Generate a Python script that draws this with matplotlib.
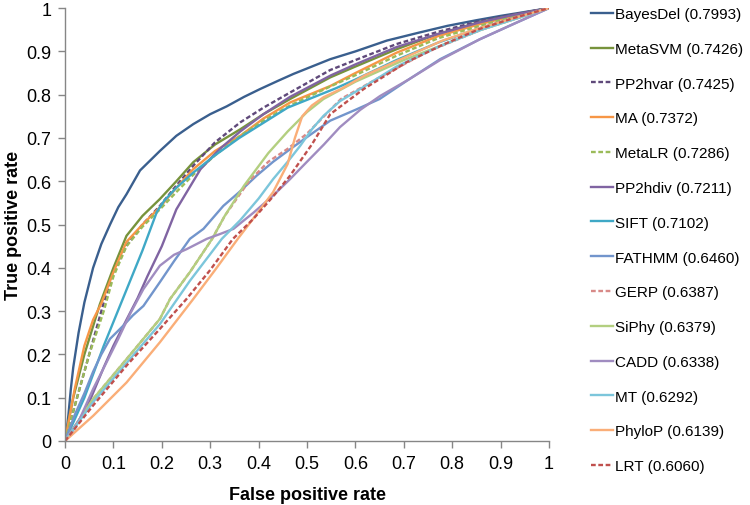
import matplotlib.pyplot as plt

plt.rcParams['font.family'] = ['Liberation Sans', 'DejaVu Sans']

# ROC points (false positive rate, true positive rate)
fpr_bayesdel = [0, 0.004, 0.007, 0.012, 0.017, 0.028, 0.04, 0.058, 0.075, 0.093, 0.11, 0.127, 0.155, 0.196, 0.23, 0.265, 0.3, 0.334, 0.37, 0.403, 0.44, 0.472, 0.51, 0.548, 0.6, 0.665, 0.73, 0.79, 0.85, 0.9, 0.95, 1]
tpr_bayesdel = [0, 0.03, 0.06, 0.12, 0.17, 0.25, 0.32, 0.4, 0.455, 0.5, 0.54, 0.57, 0.625, 0.67, 0.705, 0.732, 0.755, 0.773, 0.795, 0.813, 0.832, 0.848, 0.865, 0.882, 0.9, 0.925, 0.943, 0.959, 0.972, 0.982, 0.991, 1]

fpr_metasvm = [0, 0.008, 0.017, 0.04, 0.072, 0.1, 0.127, 0.16, 0.196, 0.23, 0.265, 0.31, 0.362, 0.41, 0.465, 0.548, 0.6, 0.685, 0.77, 0.857, 0.93, 1]
tpr_metasvm = [0, 0.05, 0.1, 0.2, 0.316, 0.4, 0.474, 0.52, 0.559, 0.6, 0.644, 0.685, 0.72, 0.755, 0.79, 0.84, 0.865, 0.905, 0.94, 0.968, 0.985, 1]

fpr_pp2hvar = [0, 0.01, 0.024, 0.05, 0.079, 0.1, 0.127, 0.16, 0.196, 0.23, 0.265, 0.31, 0.362, 0.41, 0.465, 0.548, 0.6, 0.685, 0.77, 0.857, 0.93, 1]
tpr_pp2hvar = [0, 0.04, 0.097, 0.2, 0.316, 0.39, 0.451, 0.5, 0.543, 0.59, 0.636, 0.69, 0.736, 0.77, 0.805, 0.857, 0.88, 0.917, 0.945, 0.97, 0.986, 1]

fpr_ma = [0, 0.01, 0.02, 0.04, 0.058, 0.076, 0.1, 0.127, 0.16, 0.196, 0.23, 0.265, 0.31, 0.362, 0.41, 0.465, 0.548, 0.6, 0.685, 0.77, 0.857, 0.93, 1]
tpr_ma = [0, 0.06, 0.12, 0.22, 0.28, 0.32, 0.39, 0.46, 0.5, 0.54, 0.585, 0.628, 0.67, 0.705, 0.745, 0.782, 0.82, 0.85, 0.897, 0.935, 0.963, 0.983, 1]

fpr_metalr = [0, 0.01, 0.02, 0.05, 0.08, 0.1, 0.127, 0.16, 0.196, 0.23, 0.265, 0.31, 0.362, 0.41, 0.465, 0.55, 0.6, 0.685, 0.77, 0.86, 0.93, 1]
tpr_metalr = [0, 0.04, 0.08, 0.2, 0.3, 0.38, 0.45, 0.495, 0.535, 0.575, 0.615, 0.66, 0.705, 0.74, 0.775, 0.82, 0.845, 0.89, 0.93, 0.96, 0.982, 1]

fpr_pp2hdiv = [0, 0.02, 0.05, 0.08, 0.1, 0.127, 0.15, 0.17, 0.2, 0.23, 0.28, 0.32, 0.362, 0.41, 0.465, 0.55, 0.6, 0.685, 0.77, 0.86, 0.93, 1]
tpr_pp2hdiv = [0, 0.03, 0.09, 0.17, 0.22, 0.28, 0.33, 0.38, 0.45, 0.535, 0.628, 0.675, 0.715, 0.755, 0.795, 0.845, 0.87, 0.91, 0.94, 0.968, 0.985, 1]

fpr_sift = [0, 0.04, 0.08, 0.12, 0.16, 0.19, 0.205, 0.23, 0.265, 0.31, 0.36, 0.41, 0.46, 0.56, 0.6, 0.685, 0.77, 0.86, 0.93, 1]
tpr_sift = [0, 0.1, 0.22, 0.33, 0.44, 0.53, 0.555, 0.585, 0.62, 0.66, 0.7, 0.735, 0.77, 0.815, 0.835, 0.88, 0.92, 0.955, 0.978, 1]

fpr_fathmm = [0, 0.02, 0.04, 0.058, 0.075, 0.093, 0.12, 0.14, 0.162, 0.196, 0.225, 0.258, 0.286, 0.327, 0.36, 0.396, 0.43, 0.465, 0.51, 0.548, 0.6, 0.65, 0.71, 0.775, 0.857, 0.93, 1]
tpr_fathmm = [0, 0.06, 0.11, 0.16, 0.2, 0.236, 0.266, 0.29, 0.312, 0.367, 0.415, 0.467, 0.49, 0.543, 0.575, 0.613, 0.645, 0.674, 0.71, 0.74, 0.765, 0.79, 0.835, 0.882, 0.928, 0.965, 1]

fpr_gerp = [0, 0.058, 0.127, 0.196, 0.217, 0.258, 0.304, 0.33, 0.38, 0.42, 0.46, 0.5, 0.57, 0.65, 0.75, 0.86, 0.93, 1]
tpr_gerp = [0, 0.097, 0.189, 0.282, 0.328, 0.39, 0.467, 0.52, 0.6, 0.645, 0.675, 0.71, 0.79, 0.84, 0.9, 0.95, 0.975, 1]

fpr_siphy = [0, 0.058, 0.127, 0.196, 0.217, 0.258, 0.304, 0.33, 0.37, 0.42, 0.46, 0.5, 0.534, 0.6, 0.7, 0.86, 0.93, 1]
tpr_siphy = [0, 0.097, 0.189, 0.282, 0.328, 0.39, 0.467, 0.52, 0.59, 0.665, 0.715, 0.76, 0.79, 0.83, 0.88, 0.95, 0.975, 1]

fpr_cadd = [0, 0.03, 0.058, 0.085, 0.11, 0.135, 0.162, 0.196, 0.225, 0.251, 0.293, 0.32, 0.348, 0.39, 0.43, 0.465, 0.499, 0.535, 0.568, 0.61, 0.651, 0.71, 0.775, 0.857, 0.93, 1]
tpr_cadd = [0, 0.05, 0.12, 0.18, 0.236, 0.295, 0.351, 0.405, 0.43, 0.443, 0.467, 0.478, 0.49, 0.528, 0.567, 0.605, 0.644, 0.685, 0.725, 0.765, 0.797, 0.835, 0.88, 0.928, 0.965, 1]

fpr_mt = [0, 0.058, 0.127, 0.196, 0.258, 0.324, 0.362, 0.4, 0.43, 0.46, 0.486, 0.51, 0.534, 0.568, 0.62, 0.685, 0.77, 0.86, 0.93, 1]
tpr_mt = [0, 0.09, 0.18, 0.27, 0.37, 0.467, 0.51, 0.56, 0.605, 0.645, 0.682, 0.72, 0.751, 0.785, 0.82, 0.865, 0.91, 0.95, 0.975, 1]

fpr_phylop = [0, 0.058, 0.127, 0.196, 0.265, 0.31, 0.357, 0.4, 0.43, 0.46, 0.475, 0.49, 0.51, 0.534, 0.57, 0.62, 0.7, 0.78, 0.86, 0.93, 1]
tpr_phylop = [0, 0.058, 0.135, 0.228, 0.328, 0.395, 0.467, 0.53, 0.575, 0.64, 0.7, 0.75, 0.775, 0.794, 0.813, 0.845, 0.885, 0.925, 0.955, 0.978, 1]

fpr_lrt = [0, 0.058, 0.127, 0.196, 0.251, 0.3, 0.347, 0.389, 0.43, 0.465, 0.51, 0.548, 0.617, 0.706, 0.78, 0.857, 0.93, 1]
tpr_lrt = [0, 0.082, 0.174, 0.259, 0.328, 0.395, 0.467, 0.513, 0.565, 0.613, 0.685, 0.755, 0.813, 0.875, 0.915, 0.952, 0.978, 1]

names = ['BayesDel', 'MetaSVM', 'PP2hvar', 'MA', 'MetaLR', 'PP2hdiv', 'SIFT',
         'FATHMM', 'GERP', 'SiPhy', 'CADD', 'MT', 'PhyloP', 'LRT']
aucs = ['0.7993', '0.7426', '0.7425', '0.7372', '0.7286', '0.7211', '0.7102',
        '0.6460', '0.6387', '0.6379', '0.6338', '0.6292', '0.6139', '0.6060']
curves = [(fpr_bayesdel, tpr_bayesdel), (fpr_metasvm, tpr_metasvm), (fpr_pp2hvar, tpr_pp2hvar),
          (fpr_ma, tpr_ma), (fpr_metalr, tpr_metalr), (fpr_pp2hdiv, tpr_pp2hdiv),
          (fpr_sift, tpr_sift), (fpr_fathmm, tpr_fathmm), (fpr_gerp, tpr_gerp),
          (fpr_siphy, tpr_siphy), (fpr_cadd, tpr_cadd), (fpr_mt, tpr_mt),
          (fpr_phylop, tpr_phylop), (fpr_lrt, tpr_lrt)]

colors = ['#3A5F8E', '#77933C', '#5F497A', '#F79646', '#9BBB59', '#8064A2', '#3FA8C6',
          '#7295CC', '#D88A88', '#B3CF80', '#A08CC0', '#7CC6DB', '#FAAE78', '#C0504D']
dashed = ['PP2hvar', 'MetaLR', 'GERP', 'LRT']

fig = plt.figure(figsize=(7.5, 5.06), dpi=100)
ax = fig.add_axes([0.0867, 0.1265, 0.6453, 0.8555])

for name, auc, (x, y), c in zip(names, aucs, curves, colors):
    ls = (0, (2, 1.1)) if name in dashed else '-'
    ax.plot(x, y, color=c, lw=1.7, linestyle=ls, label=f'{name} ({auc})')

ax.set_xlim(0, 1)
ax.set_ylim(0, 1)
ticks = [0, 0.1, 0.2, 0.3, 0.4, 0.5, 0.6, 0.7, 0.8, 0.9, 1]
ticklabels = ['0', '0.1', '0.2', '0.3', '0.4', '0.5', '0.6', '0.7', '0.8', '0.9', '1']
ax.set_xticks(ticks)
ax.set_xticklabels(ticklabels)
ax.set_yticks(ticks)
ax.set_yticklabels(ticklabels)
ax.tick_params(direction='out', length=5, width=1, color='#868686', labelsize=13, pad=5)
for s in ['top', 'right']:
    ax.spines[s].set_visible(False)
for s in ['left', 'bottom']:
    ax.spines[s].set_color('#868686')
    ax.spines[s].set_linewidth(1)

ax.set_xlabel('False positive rate', fontsize=13, fontweight='bold', labelpad=10)
ax.set_ylabel('True positive rate', fontsize=13, fontweight='bold', labelpad=3)

fig.legend(loc='upper left', bbox_to_anchor=(0.788, 0.984), frameon=False,
           fontsize=11, labelspacing=1.36, handlelength=1.45, handletextpad=0.1,
           borderaxespad=0, borderpad=0)

plt.savefig('out.png', dpi=100)
